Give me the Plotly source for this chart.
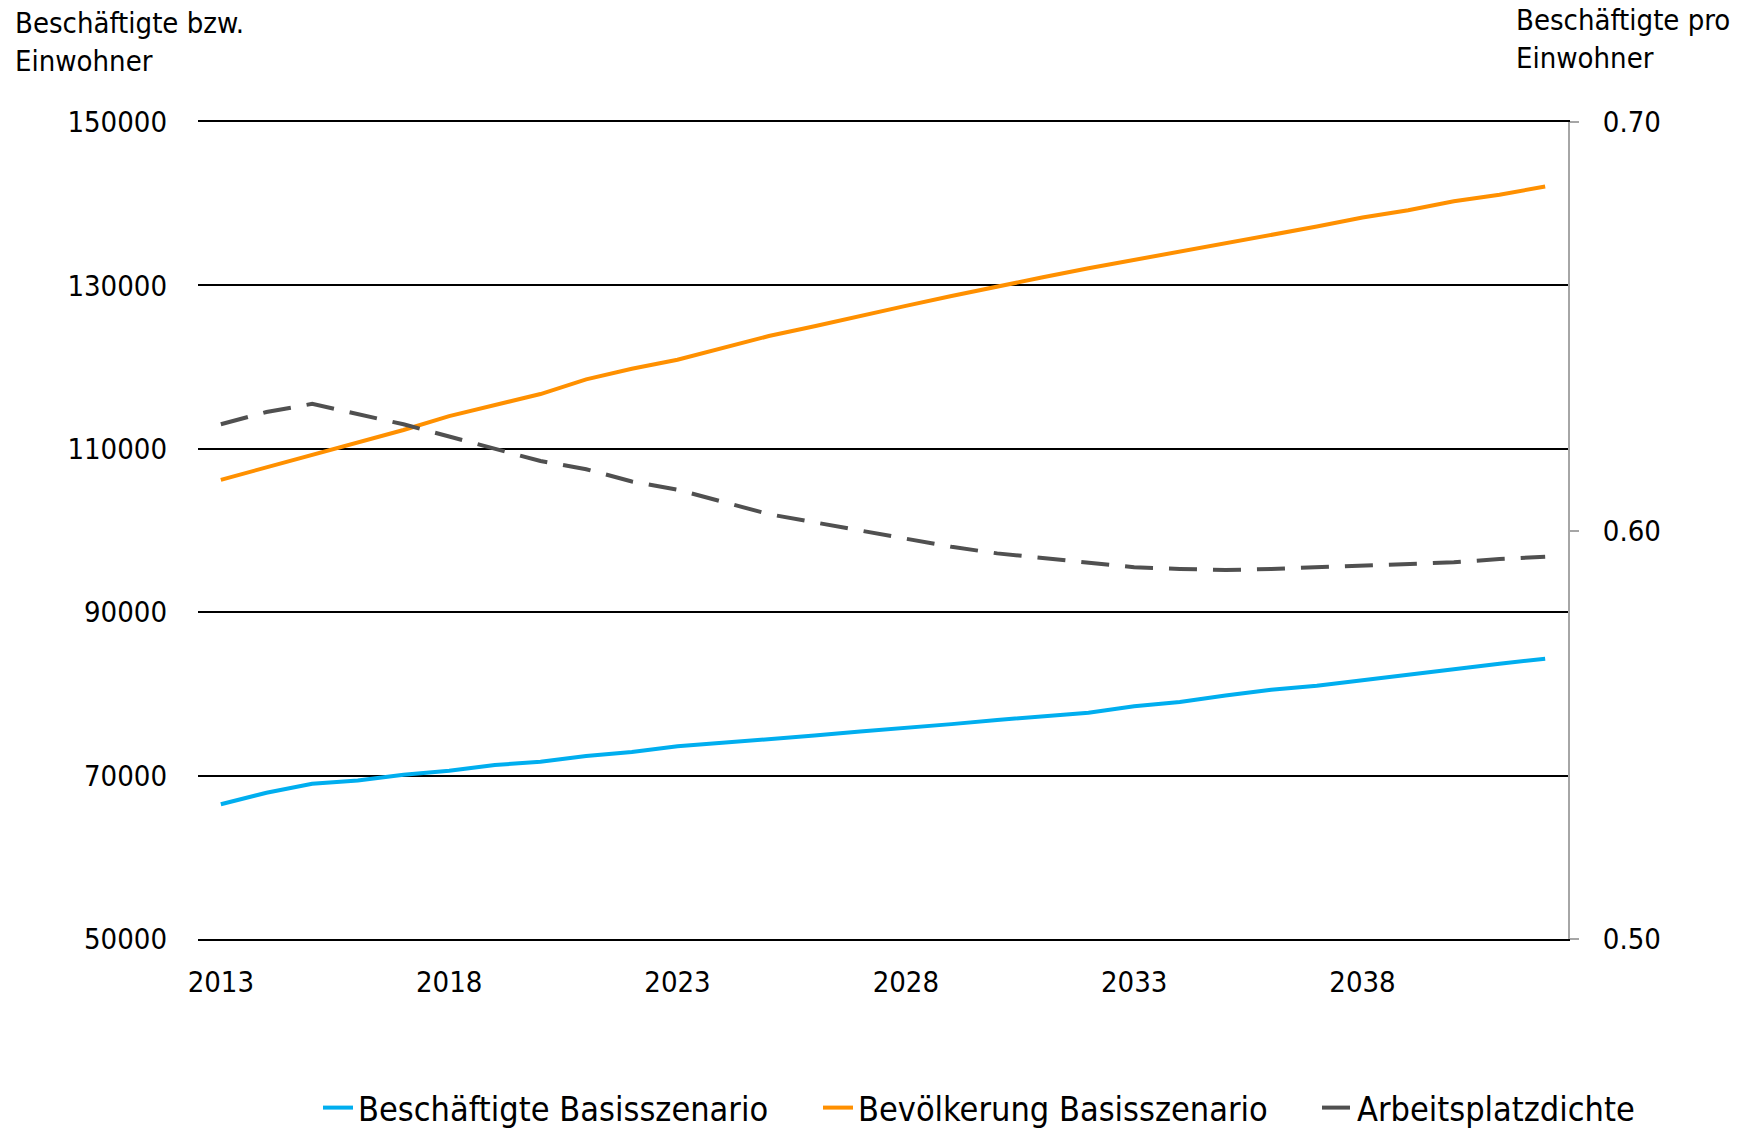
import plotly.graph_objects as go

# Jahre der Prognose
jahre = list(range(2013, 2043))

# Beschäftigte im Basisszenario (Personen)
beschaeftigte = [66500, 67900, 69000, 69400, 70100, 70600, 71300, 71700, 72400, 72900,
                 73600, 74000, 74500, 74900, 75400, 75800, 76300, 76800, 77200, 77700,
                 78500, 79000, 79800, 80500, 81000, 81700, 82400, 83100, 83700, 84300]

# Bevölkerung im Basisszenario (Einwohner)
bevoelkerung = [106200, 107700, 109300, 110700, 112300, 114000, 115300, 116700, 118500, 119800,
                120900, 122400, 123800, 125000, 126300, 127500, 128700, 129900, 131000, 132100,
                133100, 134200, 135100, 136200, 137200, 138300, 139200, 140300, 141100, 142100]

# Arbeitsplatzdichte (Beschäftigte pro Einwohner)
arbeitsplatzdichte = [0.626, 0.629, 0.631, 0.6285, 0.626, 0.623, 0.620, 0.617, 0.615, 0.612,
                      0.610, 0.607, 0.604, 0.602, 0.600, 0.598, 0.596, 0.5944, 0.5933, 0.592,
                      0.591, 0.5906, 0.5903, 0.5906, 0.591, 0.5914, 0.592, 0.5922, 0.593, 0.5936]

x_ticks = [2013, 2018, 2023, 2028, 2033, 2038]
y_links_ticks = [50000, 70000, 90000, 110000, 130000, 150000]
y_rechts_ticks = [0.50, 0.60, 0.70]

FONT = "DejaVu Sans Condensed, Liberation Sans Narrow, sans-serif"
BLAU = "#00AEEF"
ORANGE = "#FF9000"
GRAU = "#505050"

# Zeichenfläche in Pixeln
W, H = 1746, 1133
L, R, T, B = 198, 178, 122, 194
PW, PH = W - L - R, H - T - B


def px_x(p):
    return (p - L) / PW


def px_y(p):
    return (H - B - p) / PH


fig = go.Figure()

fig.add_trace(go.Scatter(
    x=jahre, y=beschaeftigte, name="Beschäftigte Basisszenario",
    mode="lines", line=dict(color=BLAU, width=4), yaxis="y", legend="legend"))
fig.add_trace(go.Scatter(
    x=jahre, y=bevoelkerung, name="Bevölkerung Basisszenario",
    mode="lines", line=dict(color=ORANGE, width=4), yaxis="y", legend="legend2"))
fig.add_trace(go.Scatter(
    x=jahre, y=arbeitsplatzdichte, name="Arbeitsplatzdichte",
    mode="lines", line=dict(color=GRAU, width=4, dash="28px,16px"), yaxis="y2", legend="legend3"))

legend_y = px_y(1108)
legend_font = dict(family=FONT, size=34, color="#000000")


def legende(x_px):
    return dict(orientation="h", x=px_x(x_px), xanchor="left", y=legend_y, yanchor="middle",
                font=legend_font, bgcolor="rgba(0,0,0,0)")


fig.update_layout(
    width=W, height=H,
    margin=dict(l=L, r=R, t=T, b=B, autoexpand=False),
    paper_bgcolor="white", plot_bgcolor="white",
    font=dict(family=FONT, size=29, color="#000000"),
    showlegend=True,
    legend=legende(318),
    legend2=legende(818),
    legend3=legende(1317),
    xaxis=dict(
        range=[2012.5, 2042.5], tickvals=x_ticks, ticktext=[str(t) for t in x_ticks],
        showgrid=False, zeroline=False, showline=True, mirror=True,
        linecolor="#000000", linewidth=2,
        ticks="", ticklabelstandoff=16, tickfont=dict(size=29),
    ),
    yaxis=dict(
        range=[50000, 150000], tickvals=y_links_ticks, ticktext=[str(t) for t in y_links_ticks],
        showgrid=True, gridcolor="#000000", gridwidth=2, zeroline=False, showline=False,
        ticks="", ticklabelstandoff=30, tickfont=dict(size=29),
    ),
    yaxis2=dict(
        range=[0.5, 0.7], tickvals=y_rechts_ticks, ticktext=["0.50", "0.60", "0.70"],
        overlaying="y", side="right", showgrid=False, zeroline=False,
        showline=True, linecolor="#A6A6A6", linewidth=2,
        ticks="outside", ticklen=9, tickcolor="#A6A6A6", tickwidth=2,
        ticklabelstandoff=18, tickfont=dict(size=29),
    ),
    annotations=[
        dict(text="Beschäftigte bzw.<br>Einwohner", xref="paper", yref="paper",
             x=px_x(13), y=px_y(4), xanchor="left", yanchor="top", align="left",
             showarrow=False, font=dict(family=FONT, size=29, color="#000000")),
        dict(text="Beschäftigte pro<br>Einwohner", xref="paper", yref="paper",
             x=px_x(1514), y=px_y(1), xanchor="left", yanchor="top", align="left",
             showarrow=False, font=dict(family=FONT, size=29, color="#000000")),
    ],
)

fig.write_html("out.html")
